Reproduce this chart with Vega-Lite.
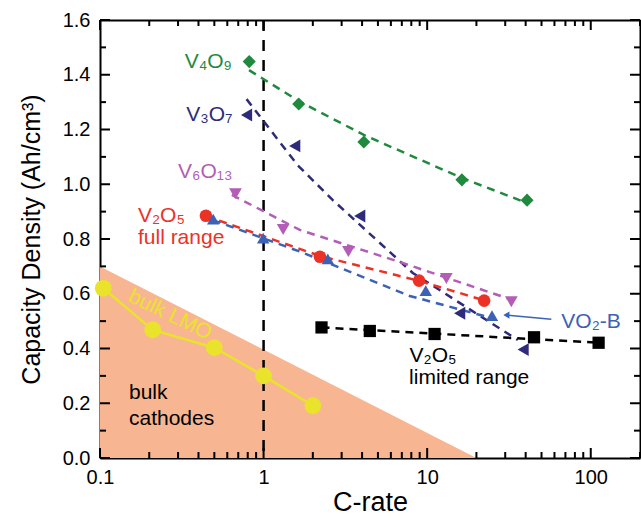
{
  "$schema": "https://vega.github.io/schema/vega-lite/v6.json",
  "width": 540,
  "height": 438,
  "autosize": "none",
  "padding": {"left": 100, "top": 20, "right": 1, "bottom": 69},
  "config": {
    "font": "Liberation Sans",
    "view": {"stroke": null},
    "axis": {"grid": false, "zindex": 2, "domainColor": "#000", "domainWidth": 2, "labelColor": "#000", "titleColor": "#000", "titleFontWeight": "normal"}
  },
  "datasets": {
    "bulk": [{"x": 0.1, "y": 0.7}, {"x": 20, "y": 0}],
    "vline": [{"x": 1}],
    "xticks": [
      {"v": 0.1, "k": "major"}, {"v": 0.2, "k": "minor"}, {"v": 0.3, "k": "minor"}, {"v": 0.4, "k": "minor"}, {"v": 0.5, "k": "minor"}, {"v": 0.6, "k": "minor"}, {"v": 0.7, "k": "minor"}, {"v": 0.8, "k": "minor"}, {"v": 0.9, "k": "minor"},
      {"v": 1, "k": "major"}, {"v": 2, "k": "minor"}, {"v": 3, "k": "minor"}, {"v": 4, "k": "minor"}, {"v": 5, "k": "minor"}, {"v": 6, "k": "minor"}, {"v": 7, "k": "minor"}, {"v": 8, "k": "minor"}, {"v": 9, "k": "minor"},
      {"v": 10, "k": "major"}, {"v": 20, "k": "minor"}, {"v": 30, "k": "minor"}, {"v": 40, "k": "minor"}, {"v": 50, "k": "minor"}, {"v": 60, "k": "minor"}, {"v": 70, "k": "minor"}, {"v": 80, "k": "minor"}, {"v": 90, "k": "minor"},
      {"v": 100, "k": "major"}, {"v": 200, "k": "minor"}
    ],
    "yticks": [
      {"v": 0.0, "k": "major"}, {"v": 0.1, "k": "minor"}, {"v": 0.2, "k": "major"}, {"v": 0.3, "k": "minor"}, {"v": 0.4, "k": "major"}, {"v": 0.5, "k": "minor"}, {"v": 0.6, "k": "major"}, {"v": 0.7, "k": "minor"}, {"v": 0.8, "k": "major"},
      {"v": 0.9, "k": "minor"}, {"v": 1.0, "k": "major"}, {"v": 1.1, "k": "minor"}, {"v": 1.2, "k": "major"}, {"v": 1.3, "k": "minor"}, {"v": 1.4, "k": "major"}, {"v": 1.5, "k": "minor"}, {"v": 1.6, "k": "major"}
    ],
    "markers": [
      {"s": "V4O9", "x": 0.817, "y": 1.448}, {"s": "V4O9", "x": 1.64, "y": 1.293}, {"s": "V4O9", "x": 4.1, "y": 1.154}, {"s": "V4O9", "x": 16.3, "y": 1.016}, {"s": "V4O9", "x": 40.8, "y": 0.942},
      {"s": "V3O7", "x": 0.787, "y": 1.253}, {"s": "V3O7", "x": 1.55, "y": 1.14}, {"s": "V3O7", "x": 3.87, "y": 0.884}, {"s": "V3O7", "x": 15.8, "y": 0.529}, {"s": "V3O7", "x": 38.6, "y": 0.396},
      {"s": "V6O13", "x": 0.673, "y": 0.965}, {"s": "V6O13", "x": 1.317, "y": 0.835}, {"s": "V6O13", "x": 3.3, "y": 0.754}, {"s": "V6O13", "x": 13.1, "y": 0.656}, {"s": "V6O13", "x": 32.7, "y": 0.571},
      {"s": "V2O5 full", "x": 0.444, "y": 0.885}, {"s": "V2O5 full", "x": 2.21, "y": 0.735}, {"s": "V2O5 full", "x": 8.92, "y": 0.648}, {"s": "V2O5 full", "x": 22.3, "y": 0.575},
      {"s": "VO2-B", "x": 0.492, "y": 0.873}, {"s": "VO2-B", "x": 0.994, "y": 0.803}, {"s": "VO2-B", "x": 2.47, "y": 0.727}, {"s": "VO2-B", "x": 9.8, "y": 0.611}, {"s": "VO2-B", "x": 24.9, "y": 0.52},
      {"s": "V2O5 limited", "x": 2.26, "y": 0.477}, {"s": "V2O5 limited", "x": 4.46, "y": 0.464}, {"s": "V2O5 limited", "x": 11.1, "y": 0.453}, {"s": "V2O5 limited", "x": 45.0, "y": 0.441}, {"s": "V2O5 limited", "x": 111.7, "y": 0.421}
    ],
    "fits": [
      {"s": "V4O9", "x": 0.815, "y": 1.417}, {"s": "V4O9", "x": 1.64, "y": 1.304}, {"s": "V4O9", "x": 4.1, "y": 1.18}, {"s": "V4O9", "x": 16.3, "y": 1.023}, {"s": "V4O9", "x": 37.8, "y": 0.939},
      {"s": "V3O7", "x": 0.787, "y": 1.311}, {"s": "V3O7", "x": 1.613, "y": 1.07}, {"s": "V3O7", "x": 2.65, "y": 0.942}, {"s": "V3O7", "x": 8.17, "y": 0.676}, {"s": "V3O7", "x": 35.8, "y": 0.431},
      {"s": "V6O13", "x": 0.64, "y": 0.961}, {"s": "V6O13", "x": 1.666, "y": 0.833}, {"s": "V6O13", "x": 6.8, "y": 0.716}, {"s": "V6O13", "x": 33.3, "y": 0.577},
      {"s": "V2O5 full", "x": 0.444, "y": 0.884}, {"s": "V2O5 full", "x": 2.21, "y": 0.738}, {"s": "V2O5 full", "x": 8.92, "y": 0.647}, {"s": "V2O5 full", "x": 24.1, "y": 0.57},
      {"s": "VO2-B", "x": 0.49, "y": 0.869}, {"s": "VO2-B", "x": 1.666, "y": 0.754}, {"s": "VO2-B", "x": 7.83, "y": 0.592}, {"s": "VO2-B", "x": 25.9, "y": 0.508},
      {"s": "V2O5 limited", "x": 2.26, "y": 0.477}, {"s": "V2O5 limited", "x": 112, "y": 0.421}
    ],
    "lmo": [
      {"s": "bulk LMO", "x": 0.1047, "y": 0.62}, {"s": "bulk LMO", "x": 0.21, "y": 0.468}, {"s": "bulk LMO", "x": 0.5, "y": 0.403}, {"s": "bulk LMO", "x": 1.0, "y": 0.3}, {"s": "bulk LMO", "x": 2.0, "y": 0.191}
    ],
    "labelsRight": [
      {"s": "V4O9", "x": 0.64, "y": 1.447, "t": "V₄O₉"},
      {"s": "V3O7", "x": 0.645, "y": 1.253, "t": "V₃O₇"},
      {"s": "V6O13", "x": 0.645, "y": 1.046, "t": "V₆O₁₃"}
    ],
    "labelsLeft": [
      {"s": "V2O5 full", "x": 0.1706, "y": 0.884, "t": "V₂O₅"},
      {"s": "V2O5 full", "x": 0.1706, "y": 0.805, "t": "full range"},
      {"s": "VO2-B", "x": 66.1, "y": 0.498, "t": "VO₂-B"},
      {"s": "V2O5 limited", "x": 7.8, "y": 0.373, "t": "V₂O₅"},
      {"s": "V2O5 limited", "x": 7.75, "y": 0.292, "t": "limited range"},
      {"s": "bulk cathodes", "x": 0.1504, "y": 0.236, "t": "bulk"},
      {"s": "bulk cathodes", "x": 0.1504, "y": 0.142, "t": "cathodes"}
    ],
    "labelRot": [{"s": "bulk LMO", "x": 0.268, "y": 0.522, "t": "bulk LMO"}],
    "arrow": [{"s": "VO2-B", "x": 57.4, "y": 0.507}, {"s": "VO2-B", "x": 30.5, "y": 0.522}],
    "arrowHead": [{"s": "VO2-B", "x": 30.5, "y": 0.522}]
  },
  "resolve": {"axis": {"x": "independent", "y": "independent"}},
  "layer": [
    {
      "data": {"name": "bulk"},
      "mark": {"type": "area", "color": "#F8B592", "opacity": 1},
      "encoding": {
        "x": {"field": "x", "type": "quantitative", "scale": {"type": "log", "domain": [0.1, 200], "nice": false},
          "axis": {"orient": "bottom", "title": "C-rate", "titleFontSize": 27, "titlePadding": 2,
            "values": [0.1, 1, 10, 100], "ticks": false,
            "labelExpr": "datum.value == 0.1 ? '0.1' : format(datum.value, 'd')",
            "labelFontSize": 20, "labelPadding": 9, "labelFlush": false, "labelOverlap": false}},
        "y": {"field": "y", "type": "quantitative", "scale": {"domain": [0, 1.6], "nice": false},
          "axis": {"orient": "left", "title": "Capacity Density (Ah/cm³)", "titleFontSize": 25, "titlePadding": 18,
            "values": [0, 0.2, 0.4, 0.6, 0.8, 1.0, 1.2, 1.4, 1.6], "ticks": false,
            "format": ".1f",
            "labelFontSize": 20, "labelPadding": 10, "labelFlush": false, "labelOverlap": false}},
        "y2": {"datum": 0}
      }
    },
    {
      "data": {"name": "xticks"},
      "transform": [{"filter": "datum.k == 'major'"}],
      "mark": {"type": "rule", "color": "#000", "strokeWidth": 2},
      "encoding": {"x": {"field": "v", "type": "quantitative", "axis": null}, "y": {"datum": 0, "axis": null}, "y2": {"datum": 0.0365}}
    },
    {
      "data": {"name": "xticks"},
      "transform": [{"filter": "datum.k == 'minor'"}],
      "mark": {"type": "rule", "color": "#000", "strokeWidth": 2},
      "encoding": {"x": {"field": "v", "type": "quantitative", "axis": null}, "y": {"datum": 0, "axis": null}, "y2": {"datum": 0.0219}}
    },
    {
      "data": {"name": "xticks"},
      "transform": [{"filter": "datum.k == 'major'"}],
      "mark": {"type": "rule", "color": "#000", "strokeWidth": 2},
      "encoding": {"x": {"field": "v", "type": "quantitative", "axis": null}, "y": {"datum": 1.6, "axis": null}, "y2": {"datum": 1.5635}}
    },
    {
      "data": {"name": "xticks"},
      "transform": [{"filter": "datum.k == 'minor'"}],
      "mark": {"type": "rule", "color": "#000", "strokeWidth": 2},
      "encoding": {"x": {"field": "v", "type": "quantitative", "axis": null}, "y": {"datum": 1.6, "axis": null}, "y2": {"datum": 1.5781}}
    },
    {
      "data": {"name": "yticks"},
      "transform": [{"filter": "datum.k == 'major'"}],
      "mark": {"type": "rule", "color": "#000", "strokeWidth": 2},
      "encoding": {"y": {"field": "v", "type": "quantitative", "axis": null}, "x": {"datum": 0.1, "axis": null}, "x2": {"datum": 0.1151}}
    },
    {
      "data": {"name": "yticks"},
      "transform": [{"filter": "datum.k == 'minor'"}],
      "mark": {"type": "rule", "color": "#000", "strokeWidth": 2},
      "encoding": {"y": {"field": "v", "type": "quantitative", "axis": null}, "x": {"datum": 0.1, "axis": null}, "x2": {"datum": 0.1088}}
    },
    {
      "data": {"name": "yticks"},
      "transform": [{"filter": "datum.k == 'major'"}],
      "mark": {"type": "rule", "color": "#000", "strokeWidth": 2},
      "encoding": {"y": {"field": "v", "type": "quantitative", "axis": null}, "x": {"datum": 200, "axis": null}, "x2": {"datum": 173.8}}
    },
    {
      "data": {"name": "yticks"},
      "transform": [{"filter": "datum.k == 'minor'"}],
      "mark": {"type": "rule", "color": "#000", "strokeWidth": 2},
      "encoding": {"y": {"field": "v", "type": "quantitative", "axis": null}, "x": {"datum": 200, "axis": null}, "x2": {"datum": 183.8}}
    },
    {
      "data": {"name": "vline"},
      "mark": {"type": "rule", "color": "#000", "strokeWidth": 2.5, "strokeDash": [11, 9]},
      "encoding": {"x": {"field": "x", "type": "quantitative", "axis": null}}
    },
    {
      "data": {"name": "lmo"},
      "mark": {"type": "line", "color": "#EAE32B", "strokeWidth": 2.5},
      "encoding": {"x": {"field": "x", "type": "quantitative", "axis": null}, "y": {"field": "y", "type": "quantitative", "axis": null}}
    },
    {
      "data": {"name": "lmo"},
      "mark": {"type": "point", "filled": true, "shape": "circle", "size": 280, "color": "#EAE32B", "opacity": 1},
      "encoding": {"x": {"field": "x", "type": "quantitative", "axis": null}, "y": {"field": "y", "type": "quantitative", "axis": null}}
    },
    {
      "data": {"name": "fits"},
      "mark": {"type": "line", "strokeWidth": 2.5, "strokeDash": [8, 6]},
      "encoding": {
        "x": {"field": "x", "type": "quantitative", "axis": null},
        "y": {"field": "y", "type": "quantitative", "axis": null},
        "detail": {"field": "s"},
        "color": {"field": "s", "type": "nominal", "legend": null,
          "scale": {"domain": ["V4O9", "V3O7", "V6O13", "V2O5 full", "VO2-B", "V2O5 limited", "bulk LMO", "bulk cathodes"],
                    "range": ["#1F8A3E", "#2E2B7A", "#B35DB6", "#EC3226", "#3B62B5", "#000000", "#EAE32B", "#000000"]}}
      }
    },
    {
      "data": {"name": "markers"},
      "mark": {"type": "point", "filled": true, "opacity": 1},
      "encoding": {
        "x": {"field": "x", "type": "quantitative", "axis": null},
        "y": {"field": "y", "type": "quantitative", "axis": null},
        "color": {"field": "s", "type": "nominal", "legend": null},
        "shape": {"field": "s", "type": "nominal", "legend": null,
          "scale": {"domain": ["V4O9", "V3O7", "V6O13", "V2O5 full", "VO2-B", "V2O5 limited"],
                    "range": ["diamond", "triangle-left", "triangle-down", "circle", "triangle-up", "square"]}},
        "size": {"field": "s", "type": "nominal", "legend": null,
          "scale": {"domain": ["V4O9", "V3O7", "V6O13", "V2O5 full", "VO2-B", "V2O5 limited"],
                    "range": [170, 150, 160, 115, 160, 75]}}
      }
    },
    {
      "data": {"name": "arrow"},
      "mark": {"type": "line", "strokeWidth": 1.5},
      "encoding": {"x": {"field": "x", "type": "quantitative", "axis": null}, "y": {"field": "y", "type": "quantitative", "axis": null}, "color": {"field": "s", "type": "nominal", "legend": null}}
    },
    {
      "data": {"name": "arrowHead"},
      "mark": {"type": "point", "shape": "triangle-left", "filled": true, "size": 50, "opacity": 1},
      "encoding": {"x": {"field": "x", "type": "quantitative", "axis": null}, "y": {"field": "y", "type": "quantitative", "axis": null}, "color": {"field": "s", "type": "nominal", "legend": null}}
    },
    {
      "data": {"name": "labelsRight"},
      "mark": {"type": "text", "align": "right", "baseline": "middle", "fontSize": 21},
      "encoding": {"x": {"field": "x", "type": "quantitative", "axis": null}, "y": {"field": "y", "type": "quantitative", "axis": null}, "text": {"field": "t"}, "color": {"field": "s", "type": "nominal", "legend": null}}
    },
    {
      "data": {"name": "labelsLeft"},
      "mark": {"type": "text", "align": "left", "baseline": "middle", "fontSize": 21},
      "encoding": {"x": {"field": "x", "type": "quantitative", "axis": null}, "y": {"field": "y", "type": "quantitative", "axis": null}, "text": {"field": "t"}, "color": {"field": "s", "type": "nominal", "legend": null}}
    },
    {
      "data": {"name": "labelRot"},
      "mark": {"type": "text", "align": "center", "baseline": "middle", "fontSize": 21, "angle": 26},
      "encoding": {"x": {"field": "x", "type": "quantitative", "axis": null}, "y": {"field": "y", "type": "quantitative", "axis": null}, "text": {"field": "t"}, "color": {"field": "s", "type": "nominal", "legend": null}}
    },
    {
      "data": {"name": "bulk"},
      "mark": {"type": "point", "opacity": 0},
      "encoding": {
        "x": {"field": "x", "type": "quantitative",
          "axis": {"orient": "top", "title": null, "labels": false, "ticks": false, "values": [0.1]}},
        "y": {"field": "y", "type": "quantitative",
          "axis": {"orient": "right", "title": null, "labels": false, "ticks": false, "values": [0]}}
      }
    }
  ]
}
